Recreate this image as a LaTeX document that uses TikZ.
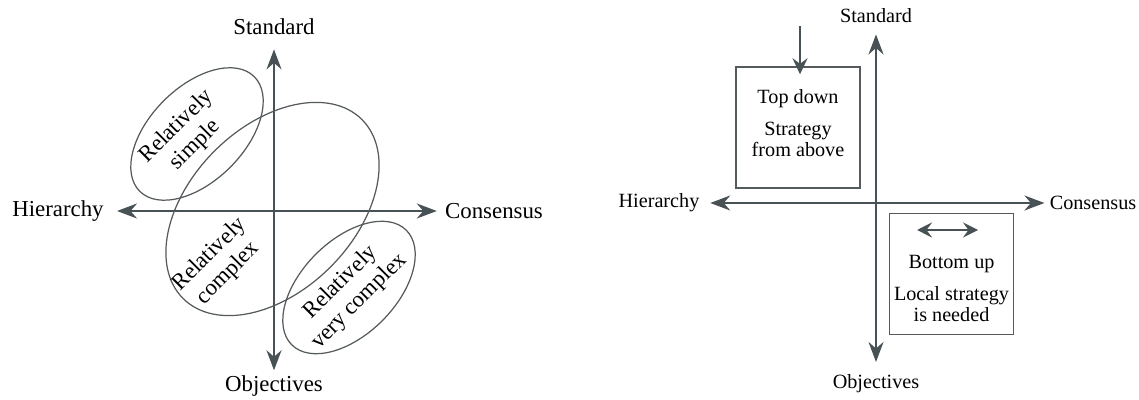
\documentclass[tikz,border=0pt]{standalone}
\usepackage{fontspec}
\setmainfont{Liberation Serif}
\usepackage{tikz}
\usetikzlibrary{arrows.meta,positioning,shapes.geometric}
\definecolor{axisgray}{HTML}{485155}
\definecolor{linegray}{HTML}{555A5C}
\tikzset{
  axislabel/.style={inner sep=0pt,font=\fontsize{13}{15}\selectfont},
  smalllabel/.style={inner sep=0pt,font=\fontsize{11.5}{13}\selectfont},
  axisarrow/.style={{Stealth[length=4mm,width=3mm,inset=1.3mm]}-{Stealth[length=4mm,width=3mm,inset=1.3mm]},
    line width=1.1pt,draw=axisgray},
  zone/.style={ellipse,draw=linegray,line width=0.7pt,inner sep=0pt,rotate=45},
  zonetext/.style={font=\fontsize{13}{15}\selectfont,align=center,rotate=45,inner sep=0pt},
  strategybox/.style={draw=linegray,line width=0.8pt,minimum width=2.48cm,minimum height=2.42cm},
  boxtext/.style={font=\fontsize{11.5}{12}\selectfont,align=center,inner sep=1pt},
  smallarrow/.style={-{Stealth[length=3.2mm,width=3mm,inset=1.1mm]},line width=1pt,draw=axisgray},
  bothwayarrow/.style={{Stealth[length=3mm,width=3mm,inset=1.1mm]}-{Stealth[length=3mm,width=3mm,inset=1.1mm]},
    line width=1pt,draw=axisgray}
}
\begin{document}
\begin{tikzpicture}[node distance=0.3cm and 0.5cm]
  \useasboundingbox (0,0) rectangle (22.78,8);
  % left: complexity zones
  \node[axislabel] (lstd) at (5.48,7.46) {Standard};
  \node[axislabel] (lobj) at (5.48,0.28) {Objectives};
  \node[axislabel] (lhier) at (1.16,3.78) {Hierarchy};
  \node[axislabel] (lcons) at (9.88,3.78) {Consensus};
  \draw[axisarrow,shorten <=0.26cm,shorten >=0.16cm] (lhier) -- (lcons);
  \draw[axisarrow,shorten <=0.28cm,shorten >=0.1cm] (lstd) -- (lobj);
  \node[zone,minimum width=3.24cm,minimum height=1.88cm] (simple) at (3.94,5.32) {};
  \node[zone,minimum width=5.06cm,minimum height=3.28cm] (complex) at (5.45,3.82) {};
  \node[zone,minimum width=3.24cm,minimum height=1.88cm] (vcomplex) at (6.98,2.25) {};
  \node[zonetext] (simpletext) at (3.72,5.28) {Relatively\\simple};
  \node[zonetext] (complextext) at (4.38,2.72) {Relatively\\complex};
  \node[zonetext] (vcomplextext) at (7.0,2.16) {Relatively\\very complex};
  % right: top down / bottom up
  \node[smalllabel] (rstd) at (17.52,7.68) {Standard};
  \node[smalllabel] (robj) at (17.52,0.32) {Objectives};
  \node[smalllabel] (rhier) at (13.18,3.94) {Hierarchy};
  \node[smalllabel] (rcons) at (21.86,3.94) {Consensus};
  \draw[axisarrow,shorten <=0.21cm,shorten >=0.1cm] (rhier) -- (rcons);
  \draw[axisarrow,shorten <=0.22cm,shorten >=0.25cm] (rstd) -- (robj);
  \node[strategybox] (topbox) at (15.96,5.45) {};
  \node[boxtext,below=0.42cm of topbox.north] (topdown) {Top down};
  \node[boxtext,below=0.2cm of topdown] (fromabove) {Strategy\\from above};
  \coordinate (tdstart) at (16.0,7.48);
  \draw[smallarrow,shorten >=-0.16cm] (tdstart) -- (tdstart |- topbox.north);
  \node[strategybox] (bottombox) at (19.03,2.52) {};
  \node[boxtext,below=0.8cm of bottombox.north] (bottomup) {Bottom up};
  \node[boxtext,below=0.2cm of bottomup] (local) {Local strategy\\is needed};
  \coordinate (buleft) at (18.34,3.4);
  \coordinate (buright) at (19.56,3.4);
  \draw[bothwayarrow] (buleft) -- (buright);
\end{tikzpicture}
\end{document}
